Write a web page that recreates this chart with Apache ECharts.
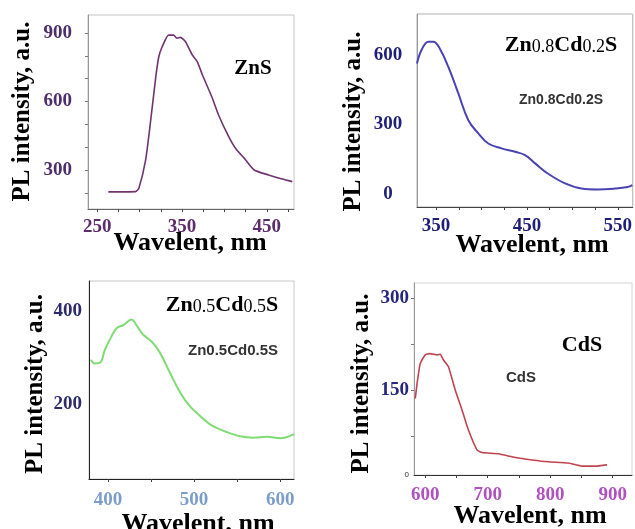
<!DOCTYPE html>
<html>
<head>
<meta charset="utf-8">
<script src="https://cdn.jsdelivr.net/npm/echarts@6/dist/echarts.min.js"></script>
<style>
html,body{margin:0;padding:0;background:#fff;}
#c{width:635px;height:529px;}
</style>
</head>
<body>
<div id="c"></div>
<script>
// ---- Data ----
var znsX = [263, 295, 299, 307, 313, 319, 322.5, 326.5, 334, 340, 344, 348, 354, 362, 368, 374, 385, 393, 405, 413, 425, 435, 452, 468, 480];
var znsY = [204, 205, 220, 344, 519, 709, 796, 840, 891, 891, 877, 881, 862, 804, 774, 716, 621, 541, 446, 395, 344, 300, 278, 260, 249];

var zn8X = [329, 334, 341.5, 347, 354, 363.5, 374.5, 385.5, 396.5, 407.5, 422, 437, 448, 459, 473, 492, 510, 528, 547, 561, 566];
var zn8Y = [564, 622, 658, 658, 629, 549, 434, 318, 261, 217, 196, 181, 167, 131, 87, 44, 22, 18, 22, 29, 37];

var zn5X = [380, 385, 391, 396.5, 404, 410, 418, 427.5, 433, 441, 451, 460.5, 472, 484, 495, 507, 518.5, 534, 553.5, 569, 584.5, 600, 616];
var zn5Y = [295, 287, 289, 317, 345, 363, 370, 382, 370, 349, 334, 310, 267, 224, 195, 174, 156, 142, 130, 127, 129, 126, 135];

var cdsX = [584, 587, 592, 600, 608, 619, 624, 629, 637, 648, 659, 669, 683, 691, 717, 744, 771, 797, 829, 851, 872, 891];
var cdsY = [137, 162, 194, 208, 210, 208, 209, 200, 189, 151, 118, 86, 53, 49, 47, 41, 37, 34, 32, 27, 27, 29];

// tick labels
var znsXLabels = [250, 350, 450];
var znsYLabels = [300, 600, 900];
var zn8XLabels = [350, 450, 550];
var zn8YLabels = [0, 300, 600];
var zn5XLabels = [400, 500, 600];
var zn5YLabels = [200, 400];
var cdsXLabels = [600, 700, 800, 900];
var cdsYLabels = [150, 300];

// minor ticks
var znsXTicks = [250, 275, 300, 325, 350, 375, 400, 425, 450, 475];
var znsYTicks = [200, 300, 400, 500, 600, 700, 800, 900];
var zn8XTicks = [350, 375, 400, 425, 450, 475, 500, 525, 550];
var zn5XTicks = [400, 450, 500, 550, 600];
var cdsXTicks = [600, 650, 700, 750, 800, 850, 900];
var cdsYTicks = [75, 150, 225, 300];

// axis ranges
var ranges = [
  {x: [239, 482], y: [129, 979]},
  {x: [329, 566.5], y: [-58, 778]},
  {x: [378, 616], y: [38, 465]},
  {x: [582, 931], y: [12.5, 325]}
];

function pairs(xs, ys) { return xs.map(function (x, i) { return [x, ys[i]]; }); }

var SERIF = '"Liberation Serif", "Times New Roman", serif';
var SANS = '"Liberation Sans", Arial, sans-serif';

function xAxis(i, labels, ticks, color, lineColor, margin) {
  return {
    type: 'value', gridIndex: i, min: ranges[i].x[0], max: ranges[i].x[1],
    axisLine: {show: true, onZero: false, lineStyle: {color: lineColor, width: 1}},
    axisTick: {show: true, customValues: ticks, length: 3, lineStyle: {color: '#444'}},
    axisLabel: {customValues: labels, color: color, fontFamily: SERIF, fontWeight: 'bold', fontSize: 19, margin: margin},
    splitLine: {show: false}
  };
}
function yAxis(i, labels, ticks, color, lineColor, margin, align, formatter) {
  var a = {
    type: 'value', gridIndex: i, min: ranges[i].y[0], max: ranges[i].y[1],
    axisLine: {show: true, onZero: false, lineStyle: {color: lineColor, width: 1}},
    axisTick: {show: !!ticks, customValues: ticks || [], length: 3, lineStyle: {color: '#777'}},
    axisLabel: {customValues: labels, color: color, fontFamily: SERIF, fontWeight: 'bold', fontSize: 19, margin: margin, align: align || 'right'},
    splitLine: {show: false}
  };
  if (formatter) a.axisLabel.formatter = formatter;
  return a;
}

var yTitle = 'PL intensity, a.u.';
var xTitle = 'Wavelent, nm';
function title(text, x, y, rot, size) {
  return {type: 'text', x: x, y: y, rotation: rot, z: 100,
    style: {text: text, font: 'bold ' + size + 'px ' + SERIF, fill: '#000', align: 'center', verticalAlign: 'middle'}};
}
function richFormula(parts, x, y) {
  // parts: [big, small, big, small, big]
  var t = '{b|' + parts[0] + '}{s|' + parts[1] + '}{b|' + parts[2] + '}{s|' + parts[3] + '}{b|' + parts[4] + '}';
  return {type: 'text', x: x, y: y, z: 100,
    style: {text: t, align: 'center', verticalAlign: 'middle', fill: '#000',
      rich: {
        b: {fontFamily: SERIF, fontWeight: 'bold', fontSize: 22, fill: '#000', verticalAlign: 'bottom'},
        s: {fontFamily: SERIF, fontWeight: 'normal', fontSize: 18, fill: '#000', verticalAlign: 'bottom'}
      }}};
}
function sansText(text, x, y, size) {
  return {type: 'text', x: x, y: y, z: 100,
    style: {text: text, font: 'bold ' + size + 'px ' + SANS, fill: '#333', align: 'center', verticalAlign: 'middle'}};
}

var chart = echarts.init(document.getElementById('c'), null, {renderer: 'canvas'});
var R = -Math.PI / 2;
chart.setOption({
  backgroundColor: '#fff',
  animation: false,
  grid: [
    {left: 88, top: 15, width: 206, height: 194, show: true, borderColor: '#c4c4c4', borderWidth: 1},
    {left: 417, top: 14, width: 216, height: 193, show: true, borderColor: '#b0b0b0', borderWidth: 1},
    {left: 89, top: 281, width: 205, height: 198, show: true, borderColor: '#c8c8c8', borderWidth: 1},
    {left: 414, top: 283, width: 218, height: 192, show: true, borderColor: '#d4d4d4', borderWidth: 1}
  ],
  xAxis: [
    xAxis(0, znsXLabels, znsXTicks, '#5c2c6c', '#666', 9),
    xAxis(1, zn8XLabels, zn8XTicks, '#1f1f7a', '#444', 10),
    xAxis(2, zn5XLabels, zn5XTicks, '#7c9dcc', '#222', 12),
    xAxis(3, cdsXLabels, cdsXTicks, '#b050c2', '#333', 11)
  ],
  yAxis: [
    yAxis(0, znsYLabels, znsYTicks, '#4e2f6c', '#999', 16),
    yAxis(1, zn8YLabels, null, '#1f1f7a', '#999', 29, 'center'),
    yAxis(2, zn5YLabels, null, '#2c2c6c', '#222', 7),
    yAxis(3, [ranges[3].y[0]].concat(cdsYLabels), cdsYTicks, '#262680', '#999', 5, 'right', function (v) {
      return v < 100 ? '{s|0}' : String(v);
    })
  ],
  series: [
    {type: 'line', xAxisIndex: 0, yAxisIndex: 0, data: pairs(znsX, znsY), showSymbol: false, smooth: 0.2,
      lineStyle: {color: '#6f3470', width: 1.6}},
    {type: 'line', xAxisIndex: 1, yAxisIndex: 1, data: pairs(zn8X, zn8Y), showSymbol: false, smooth: 0.4,
      lineStyle: {color: '#4a43b4', width: 2}},
    {type: 'line', xAxisIndex: 2, yAxisIndex: 2, data: pairs(zn5X, zn5Y), showSymbol: false, smooth: 0.4,
      lineStyle: {color: '#7ddc72', width: 2}},
    {type: 'line', xAxisIndex: 3, yAxisIndex: 3, data: pairs(cdsX, cdsY), showSymbol: false, smooth: 0.15,
      lineStyle: {color: '#c0444f', width: 1.6}}
  ],
  graphic: [
    title(yTitle, 23, 111.5, -R, 25),
    title(yTitle, 354, 121.5, -R, 25),
    title(yTitle, 36, 384, -R, 25),
    title(yTitle, 362, 383.5, -R, 25),
    title(xTitle, 190, 243, 0, 26),
    title(xTitle, 532, 245, 0, 26),
    title(xTitle, 198, 524, 0, 26),
    title(xTitle, 530, 516, 0, 26),
    title('ZnS', 253, 68.5, 0, 21),
    richFormula(['Zn', '0.8', 'Cd', '0.2', 'S'], 561, 45),
    sansText('Zn0.8Cd0.2S', 561, 100, 14),
    richFormula(['Zn', '0.5', 'Cd', '0.5', 'S'], 222, 305.5),
    sansText('Zn0.5Cd0.5S', 233, 351, 15),
    title('CdS', 582, 345, 0, 22),
    sansText('CdS', 521, 377.5, 15)
  ]
});
// rich style for the small "0" on the CdS y axis
chart.setOption({yAxis: [{}, {}, {}, {axisLabel: {rich: {s: {fontSize: 8, fontFamily: SANS, color: '#333', fontWeight: 'normal'}}}}]});
</script>
</body>
</html>
